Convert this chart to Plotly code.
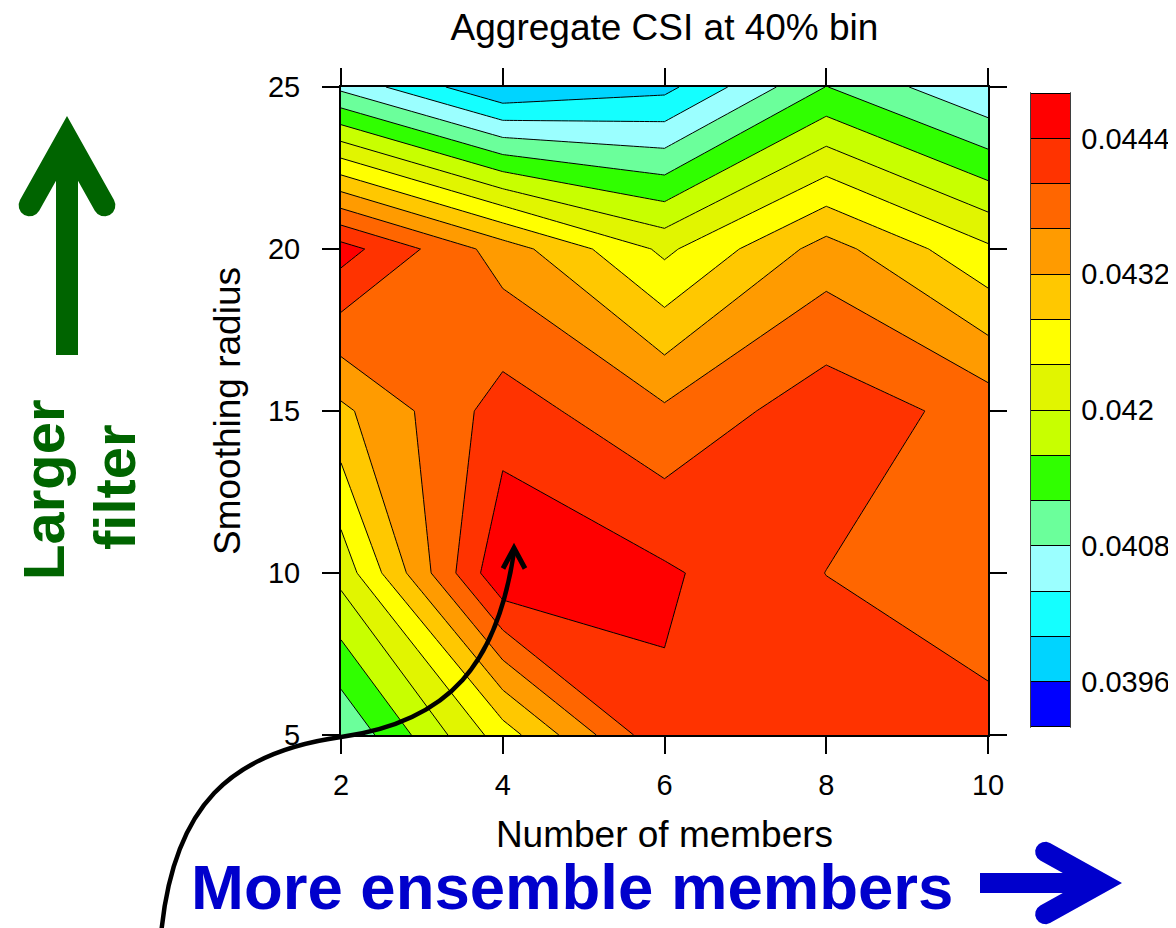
import math
import plotly.graph_objects as go

# ---------------- data ----------------
members = [2, 4, 6, 8, 10]            # x: number of members
radius = [5, 10, 15, 20, 25]          # y: smoothing radius
# aggregate CSI, one row per smoothing radius (5 .. 25), one column per member count
csi_r5 = [0.04083, 0.04260, 0.04433, 0.04430, 0.04410]
csi_r10 = [0.04214, 0.04476, 0.04446, 0.043995, 0.04380]
csi_r15 = [0.04311, 0.04419, 0.04367, 0.04425, 0.04384]
csi_r20 = [0.04457, 0.04341, 0.04231, 0.04337, 0.04247]
csi_r25 = [0.04070, 0.03962, 0.03988, 0.04121, 0.04041]
z = [csi_r5, csi_r10, csi_r15, csi_r20, csi_r25]

level_start = 0.0392
level_end = 0.0448
level_step = 0.0004
cbar_tickvals = [0.0396, 0.0408, 0.0420, 0.0432, 0.0444]
cbar_ticktext = ["0.0396", "0.0408", "0.042", "0.0432", "0.0444"]
x_ticks = [2, 4, 6, 8, 10]
y_ticks = [5, 10, 15, 20, 25]

# band colours (white = outside the labelled range)
band_colors = [
    "#ffffff",
    "#0000ff", "#00d4ff", "#14ffff", "#9bffff", "#6bff9b", "#30ff00", "#c8ff00",
    "#e1f500", "#ffff00", "#ffc800", "#ff9b00", "#ff6600", "#ff3300", "#ff0000",
    "#ffffff",
]
nb = len(band_colors) - 1
colorscale = [[k / nb, c] for k, c in enumerate(band_colors)]

# ---------------- layout geometry (pixels, reference frame) ----------------
OFF = 8                      # default page body margin in the browser
W, H = 1176 - OFF, 928 - OFF
L, R, T, B = 341, 988, 87, 735


def xp(px):
    return (px - L) / (R - L)


def yp(py):
    return (B - py) / (B - T)


FONT = "Liberation Sans, Arial, Helvetica, sans-serif"
GREEN = "#006400"
BLUE = "#0000cc"

fig = go.Figure()
fig.add_trace(go.Contour(
    x=members, y=radius, z=z,
    colorscale=colorscale,
    autocontour=False,
    contours=dict(start=level_start, end=level_end, size=level_step,
                  coloring="fill", showlines=True),
    line=dict(color="black", width=1, smoothing=0),
    colorbar=dict(
        thickness=39, thicknessmode="pixels",
        len=634 * 15 / 14, lenmode="pixels",
        x=xp(1031), xanchor="left", xpad=0,
        y=yp(410), yanchor="middle", ypad=0,
        outlinewidth=0,
        tickvals=cbar_tickvals, ticktext=cbar_ticktext,
        ticks="outside", ticklen=6, tickcolor="rgba(0,0,0,0)",
        tickfont=dict(size=29, color="black", family=FONT),
    ),
    hoverinfo="x+y+z",
))


# ---------------- decorative arrows ----------------
def arrow_points(Lh, Hh, t, w, S):
    n = math.hypot(Lh, Hh)
    d = (Lh / n, Hh / n)
    nin = (Hh / n, -Lh / n)
    oe = (Lh, Hh)
    ie = (Lh + t * nin[0], Hh + t * nin[1])
    c = (Lh + t / 2 * nin[0], Hh + t / 2 * nin[1])
    arc = []
    for i in range(1, 8):
        ph = math.pi * i / 8
        arc.append((c[0] + t / 2 * (-math.cos(ph) * nin[0] + math.sin(ph) * d[0]),
                    c[1] + t / 2 * (-math.cos(ph) * nin[1] + math.sin(ph) * d[1])))
    s = (w - ie[1]) / d[1]
    notch = (ie[0] + s * d[0], w)
    upper = [oe] + arc + [ie, notch, (S, w)]
    lower = [(u, -v) for (u, v) in reversed(upper)]
    return [(0.0, 0.0)] + upper + lower


def to_path(pts):
    return "M " + " L ".join(f"{xp(a):.5f},{yp(b):.5f}" for a, b in pts) + " Z"


green_local = arrow_points(84, 47, 22, 11, 239)
green_pts = [(67 + v, 116 + u) for (u, v) in green_local]
blue_local = arrow_points(72, 40, 20, 10, 142)
blue_pts = [(1122 - u, 883 + v) for (u, v) in blue_local]


def P(px, py):
    return f"{xp(px):.5f},{yp(py):.5f}"


curve = ("M " + P(161, 935) + " C " + P(173, 805) + " " + P(231, 752.4) + " " + P(341, 737)
         + " C " + P(451, 721.6) + " " + P(497.5, 662) + " " + P(514, 552))
head = "M " + P(503, 568.5) + " L " + P(514, 548) + " L " + P(525, 568.5)

shapes = [
    dict(type="path", xref="paper", yref="paper", path=to_path(green_pts),
         fillcolor=GREEN, line=dict(width=0), layer="above"),
    dict(type="path", xref="paper", yref="paper", path=to_path(blue_pts),
         fillcolor=BLUE, line=dict(width=0), layer="above"),
    dict(type="path", xref="paper", yref="paper", path=curve,
         line=dict(color="black", width=4.5), layer="above"),
    dict(type="path", xref="paper", yref="paper", path=head,
         line=dict(color="black", width=5), layer="above"),
    # colour-bar outline
    dict(type="rect", xref="paper", yref="paper",
         x0=xp(1031), x1=xp(1070), y0=yp(727), y1=yp(93),
         line=dict(color="black", width=1.5), fillcolor="rgba(0,0,0,0)", layer="above"),
]

annotations = [
    dict(text="<b>Larger</b>", x=xp(43), y=yp(490), xref="paper", yref="paper",
         textangle=-90, showarrow=False, xanchor="center", yanchor="middle",
         font=dict(size=58, color=GREEN, family=FONT)),
    dict(text="<b>filter</b>", x=xp(114), y=yp(487), xref="paper", yref="paper",
         textangle=-90, showarrow=False, xanchor="center", yanchor="middle",
         font=dict(size=58, color=GREEN, family=FONT)),
    dict(text="<b>More ensemble members</b>", x=xp(572), y=yp(887), xref="paper", yref="paper",
         showarrow=False, xanchor="center", yanchor="middle",
         font=dict(size=63.5, color=BLUE, family=FONT)),
]

axis_common = dict(
    showline=True, linecolor="black", linewidth=2, mirror="ticks",
    ticks="outside", ticklen=17, tickwidth=2, tickcolor="black",
    showgrid=False, zeroline=False,
    tickfont=dict(size=29, color="black", family=FONT),
)

fig.update_layout(
    width=W, height=H, autosize=False,
    margin=dict(l=L - OFF, r=W - (R - OFF), t=T - OFF, b=H - (B - OFF), autoexpand=False),
    paper_bgcolor="white", plot_bgcolor="white",
    font=dict(family=FONT, color="black"),
    title=dict(text="Aggregate CSI at 40% bin", x=xp(664.5), xref="paper",
               y=1 - (27 - OFF) / H, yref="container", xanchor="center", yanchor="middle",
               font=dict(size=37, color="black", family=FONT)),
    xaxis=dict(range=[2, 10], tickvals=x_ticks, ticklabelstandoff=6,
               title=dict(text="Number of members", font=dict(size=37, family=FONT), standoff=21),
               **axis_common),
    yaxis=dict(range=[5, 25], tickvals=y_ticks, ticklabelstandoff=16,
               title=dict(text="Smoothing radius", font=dict(size=37, family=FONT), standoff=16),
               **axis_common),
    shapes=shapes,
    annotations=annotations,
    showlegend=False,
)

fig.write_html("out.html")
